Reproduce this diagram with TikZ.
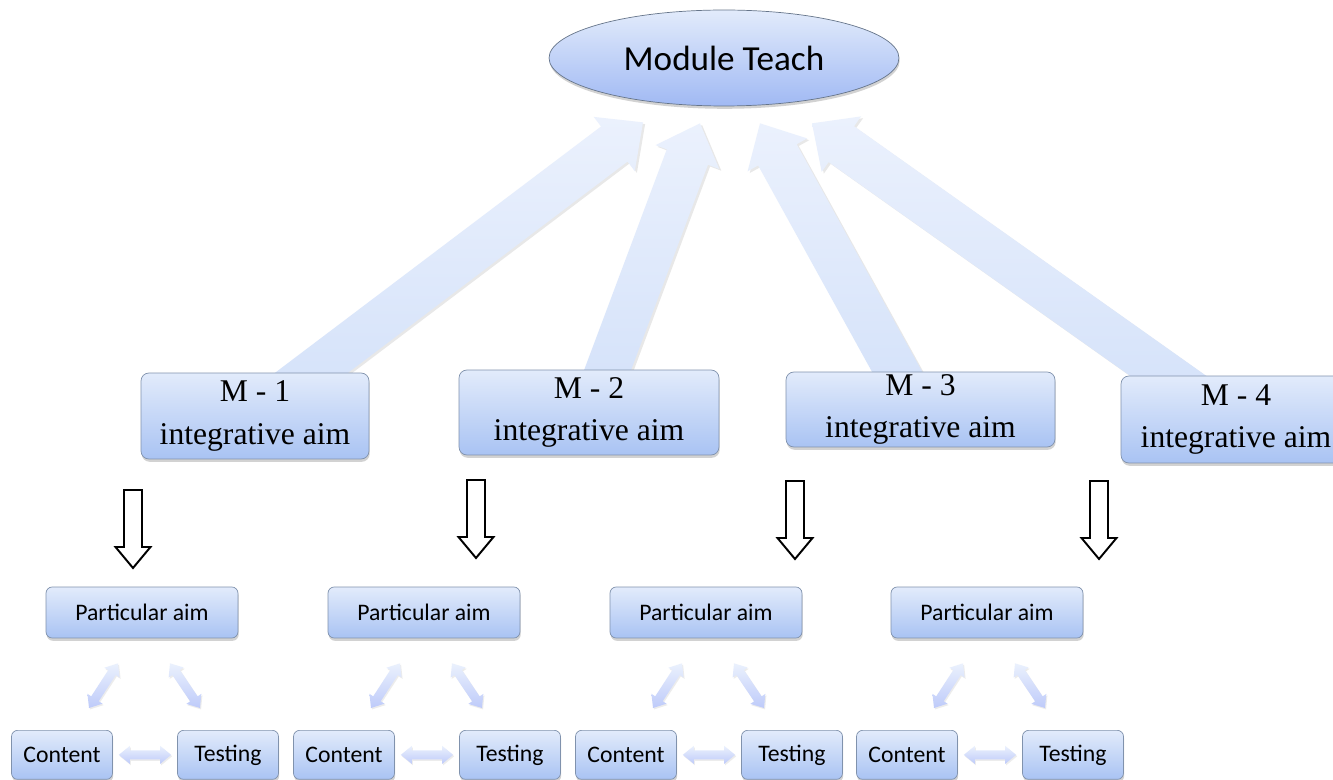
\documentclass[tikz,border=0pt]{standalone}
\usepackage{fontspec}
\setmainfont{Liberation Serif}
\newfontfamily\calibri{Carlito}
\usetikzlibrary{positioning,calc,shapes.geometric,shadows,backgrounds}

\definecolor{boxtop}{HTML}{E2EBFB}
\definecolor{boxbot}{HTML}{A9C3F3}
\definecolor{boxline}{HTML}{8092AD}
\definecolor{arrtop}{HTML}{EBF1FD}
\definecolor{arrbot}{HTML}{D3E1F9}

% block arrow: [style]{from}{to}{half shaft}{half head}{head length}
\newcommand\fatarrow[6][]{%
  \coordinate (fa-h) at ($(#3)!#6!(#2)$);
  \path[#1] ($(#2)!#4!90:(#3)$) -- ($(fa-h)!#4!-90:(#2)$) -- ($(fa-h)!#5!-90:(#2)$)
    -- (#3) -- ($(fa-h)!#5!90:(#2)$) -- ($(fa-h)!#4!90:(#2)$) -- ($(#2)!#4!-90:(#3)$) -- cycle;}
% same, with a head at both ends
\newcommand\twinarrow[6][]{%
  \coordinate (ta-a) at ($(#2)!#6!(#3)$);
  \coordinate (ta-b) at ($(#3)!#6!(#2)$);
  \path[#1] (#2) -- ($(ta-a)!#5!90:(#3)$) -- ($(ta-a)!#4!90:(#3)$) -- ($(ta-b)!#4!-90:(#2)$)
    -- ($(ta-b)!#5!-90:(#2)$) -- (#3) -- ($(ta-b)!#5!90:(#2)$) -- ($(ta-b)!#4!90:(#2)$)
    -- ($(ta-a)!#4!-90:(#3)$) -- ($(ta-a)!#5!-90:(#3)$) -- cycle;}

\begin{document}
\begin{tikzpicture}[x=0.02cm,y=-0.02cm,
  teach/.style={
    ellipse,
    draw=boxline!80!black,
    top color=boxtop,
    bottom color=boxbot!95!blue,
    inner sep=0pt,
    minimum width=7cm,
    minimum height=1.92cm,
    font=\calibri\fontsize{20}{24}\selectfont,
    drop shadow={shadow xshift=0.4pt,shadow yshift=-1.6pt,opacity=0.35}
  },
  mbox/.style={
    draw=boxline,
    rounded corners=4.5pt,
    top color=boxtop,
    bottom color=boxbot,
    inner sep=0pt,
    align=center,
    font=\fontsize{18}{24}\selectfont,
    drop shadow={shadow xshift=0.4pt,shadow yshift=-1.6pt,opacity=0.35}
  },
  pabox/.style={
    mbox,
    rounded corners=3.5pt,
    minimum width=3.84cm,
    minimum height=1.02cm,
    font=\calibri\fontsize{13.5}{16}\selectfont
  },
  leafbox/.style={
    pabox,
    minimum width=2.02cm,
    minimum height=0.98cm
  },
  bigarrow/.style={
    top color=arrtop,
    bottom color=arrbot,
    drop shadow={shadow xshift=1.2pt,shadow yshift=-1pt,opacity=0.18}
  },
  hollow/.style={
    draw=black,
    fill=white,
    line width=1.1pt,
    line join=miter
  },
  smallarrow/.style={
    top color=arrtop,
    bottom color=arrbot!90!blue,
    drop shadow={shadow xshift=0.6pt,shadow yshift=-0.8pt,opacity=0.15}
  }]
  \useasboundingbox (0,0) rectangle (1333,780);

  \node[teach] (teach) at (724,58) {Module Teach};

  \node[mbox,minimum width=4.56cm,minimum height=1.72cm] (m1) at (255,416)
    {M - 1\\integrative aim};
  \node[mbox,minimum width=5.2cm,minimum height=1.7cm] (m2) at (589,412.5)
    {M - 2\\integrative aim};
  \node[mbox,minimum width=5.38cm,minimum height=1.5cm] (m3) at (920.5,409.5)
    {M - 3\\integrative aim};
  \node[mbox,minimum width=4.6cm,minimum height=1.74cm] (m4) at (1236,419.5)
    {M - 4\\integrative aim};

  % wide arrows from the modules up to the ellipse
  \coordinate (t1) at ($(m1.north)+(21,27)$);
  \coordinate (t2) at ($(m2.north)+(7.5,30)$);
  \coordinate (t3) at ($(m3.north)+(-8,28)$);
  \coordinate (t4) at ($(m4.north)+(-30,27)$);
  \coordinate (tip1) at ($(teach.south)+(-81,16)$);
  \coordinate (tip2) at ($(teach.south)+(-24,17)$);
  \coordinate (tip3) at ($(teach.south)+(36,17)$);
  \coordinate (tip4) at ($(teach.south)+(88,17)$);
  \begin{scope}[on background layer]
    \fill[white] (0,0) rectangle (1333,780);
    \fatarrow[bigarrow]{t1}{tip1}{0.44cm}{0.68cm}{0.72cm}
    \fatarrow[bigarrow]{t2}{tip2}{0.44cm}{0.68cm}{0.72cm}
    \fatarrow[bigarrow]{t3}{tip3}{0.44cm}{0.68cm}{0.72cm}
    \fatarrow[bigarrow]{t4}{tip4}{0.44cm}{0.68cm}{0.72cm}
  \end{scope}

  % one aim with its content and testing under each module
  \foreach \i/\x/\hx/\hy in {1/142/133/490,2/424/476/480,3/706/795/481,4/987/1099/481} {
    \node[pabox] (pa\i) at (\x,612.5) {Particular aim};
    \node[leafbox] (c\i) at ($(pa\i.south)+(-80,116.5)$) {Content};
    \node[leafbox] (t\i) at ($(pa\i.south)+(86,116.5)$) {Testing};

    \coordinate (da\i) at (\hx,\hy);
    \coordinate (db\i) at (\hx,\hy+78);
    \fatarrow[hollow]{da\i}{db\i}{0.18cm}{0.35cm}{0.42cm}

    \coordinate (la\i) at ($(pa\i.south)+(-24,25)$);
    \coordinate (lb\i) at ($(c\i.north)+(27,-22)$);
    \coordinate (ra\i) at ($(pa\i.south)+(28,25)$);
    \coordinate (rb\i) at ($(t\i.north)+(-28,-22)$);
    \coordinate (ha\i) at ($(c\i.east)+(6,0)$);
    \coordinate (hb\i) at ($(t\i.west)+(-6,0)$);
    \twinarrow[smallarrow]{la\i}{lb\i}{0.09cm}{0.18cm}{0.22cm}
    \twinarrow[smallarrow]{ra\i}{rb\i}{0.09cm}{0.18cm}{0.22cm}
    \twinarrow[smallarrow]{ha\i}{hb\i}{0.09cm}{0.18cm}{0.22cm}
  }
\end{tikzpicture}
\end{document}
